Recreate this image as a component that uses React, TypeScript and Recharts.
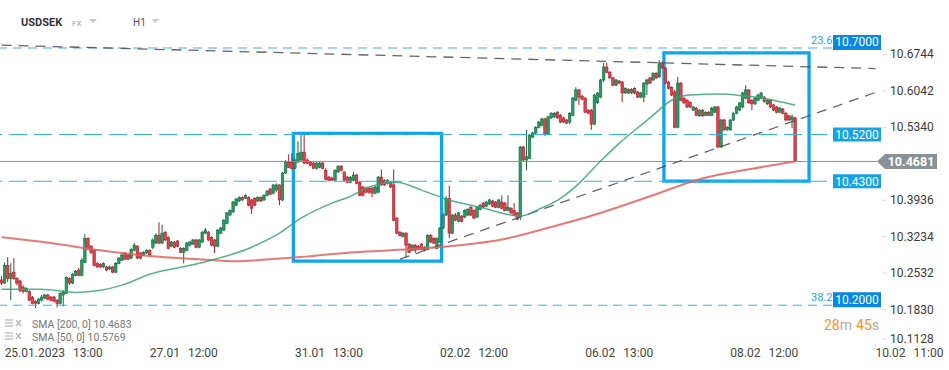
import { ComposedChart, Bar, Line, XAxis, YAxis, ReferenceLine, ReferenceArea } from 'recharts';

// USDSEK H1 candles, one array per trading session: [open, high, low, close]
type Ohlc = [number, number, number, number];

const jan25: Ohlc[] = [
  [10.240, 10.247, 10.230, 10.234], [10.234, 10.274, 10.232, 10.268], [10.268, 10.284, 10.236, 10.243],
  [10.243, 10.272, 10.201, 10.253], [10.255, 10.282, 10.240, 10.243], [10.243, 10.245, 10.230, 10.234],
  [10.238, 10.240, 10.216, 10.220], [10.226, 10.230, 10.214, 10.218], [10.218, 10.226, 10.216, 10.224],
  [10.218, 10.220, 10.199, 10.201], [10.207, 10.209, 10.193, 10.195], [10.199, 10.201, 10.186, 10.195],
];
const jan26: Ohlc[] = [
  [10.195, 10.205, 10.193, 10.203], [10.201, 10.211, 10.199, 10.207], [10.205, 10.213, 10.203, 10.211],
  [10.211, 10.213, 10.201, 10.203], [10.207, 10.209, 10.199, 10.201], [10.207, 10.209, 10.197, 10.199],
  [10.201, 10.203, 10.187, 10.195], [10.195, 10.216, 10.193, 10.214], [10.211, 10.220, 10.189, 10.216],
  [10.214, 10.247, 10.213, 10.245], [10.243, 10.245, 10.230, 10.234], [10.234, 10.253, 10.232, 10.251],
  [10.249, 10.259, 10.247, 10.257], [10.259, 10.263, 10.247, 10.249], [10.249, 10.282, 10.247, 10.278],
  [10.274, 10.328, 10.272, 10.320], [10.320, 10.322, 10.297, 10.301], [10.305, 10.307, 10.290, 10.293],
  [10.297, 10.299, 10.266, 10.268], [10.272, 10.274, 10.263, 10.265], [10.270, 10.272, 10.263, 10.265],
  [10.265, 10.274, 10.263, 10.272], [10.265, 10.267, 10.257, 10.259], [10.261, 10.267, 10.259, 10.265],
];
const jan27: Ohlc[] = [
  [10.265, 10.267, 10.253, 10.255], [10.255, 10.274, 10.253, 10.272], [10.272, 10.284, 10.270, 10.282],
  [10.278, 10.292, 10.276, 10.288], [10.292, 10.293, 10.278, 10.280], [10.288, 10.290, 10.278, 10.280],
  [10.282, 10.301, 10.280, 10.299], [10.297, 10.311, 10.295, 10.307], [10.305, 10.307, 10.280, 10.282],
  [10.292, 10.293, 10.280, 10.282], [10.288, 10.295, 10.286, 10.293], [10.292, 10.299, 10.290, 10.297],
  [10.297, 10.299, 10.284, 10.288], [10.303, 10.320, 10.299, 10.317], [10.311, 10.330, 10.309, 10.326],
  [10.326, 10.351, 10.309, 10.311], [10.311, 10.346, 10.309, 10.330], [10.332, 10.334, 10.315, 10.317],
  [10.322, 10.324, 10.299, 10.301], [10.305, 10.315, 10.303, 10.313], [10.313, 10.315, 10.301, 10.303],
  [10.315, 10.317, 10.303, 10.305], [10.301, 10.303, 10.292, 10.293],
];
const jan30: Ohlc[] = [
  [10.293, 10.303, 10.272, 10.301], [10.297, 10.313, 10.295, 10.311], [10.307, 10.315, 10.305, 10.313],
  [10.309, 10.319, 10.307, 10.317], [10.317, 10.319, 10.301, 10.303], [10.303, 10.319, 10.301, 10.317],
  [10.313, 10.334, 10.311, 10.332], [10.330, 10.340, 10.328, 10.336], [10.332, 10.334, 10.315, 10.317],
  [10.322, 10.324, 10.305, 10.307], [10.317, 10.319, 10.292, 10.305], [10.305, 10.338, 10.303, 10.336],
  [10.330, 10.342, 10.328, 10.340], [10.336, 10.357, 10.334, 10.355], [10.349, 10.371, 10.347, 10.369],
  [10.365, 10.376, 10.363, 10.374], [10.371, 10.392, 10.369, 10.390], [10.384, 10.397, 10.382, 10.396],
  [10.392, 10.401, 10.390, 10.399], [10.399, 10.401, 10.392, 10.394], [10.397, 10.405, 10.396, 10.403],
  [10.399, 10.401, 10.382, 10.384], [10.394, 10.396, 10.367, 10.378],
];
const jan31: Ohlc[] = [
  [10.397, 10.399, 10.382, 10.384], [10.392, 10.401, 10.390, 10.399], [10.399, 10.401, 10.390, 10.392],
  [10.394, 10.405, 10.392, 10.403], [10.403, 10.413, 10.401, 10.411], [10.415, 10.417, 10.403, 10.405],
  [10.407, 10.424, 10.405, 10.423], [10.413, 10.426, 10.409, 10.423], [10.423, 10.424, 10.384, 10.394],
  [10.394, 10.448, 10.392, 10.446], [10.446, 10.471, 10.444, 10.467], [10.467, 10.482, 10.455, 10.457],
  [10.467, 10.484, 10.453, 10.455], [10.455, 10.474, 10.453, 10.471], [10.467, 10.507, 10.465, 10.484],
  [10.471, 10.519, 10.469, 10.486], [10.486, 10.519, 10.463, 10.465], [10.471, 10.474, 10.463, 10.465],
  [10.467, 10.469, 10.459, 10.461], [10.465, 10.467, 10.453, 10.455], [10.455, 10.467, 10.453, 10.465],
  [10.457, 10.467, 10.455, 10.465], [10.465, 10.467, 10.453, 10.455], [10.451, 10.455, 10.432, 10.434],
];
const feb01: Ohlc[] = [
  [10.438, 10.440, 10.430, 10.432], [10.436, 10.439, 10.430, 10.432], [10.432, 10.453, 10.430, 10.451],
  [10.448, 10.461, 10.446, 10.459], [10.459, 10.461, 10.449, 10.451], [10.448, 10.449, 10.430, 10.432],
  [10.438, 10.440, 10.426, 10.428], [10.428, 10.440, 10.426, 10.438], [10.432, 10.448, 10.430, 10.442],
  [10.442, 10.444, 10.424, 10.426], [10.428, 10.430, 10.401, 10.403], [10.419, 10.421, 10.401, 10.403],
  [10.417, 10.419, 10.407, 10.409], [10.416, 10.419, 10.406, 10.409], [10.417, 10.419, 10.399, 10.407],
  [10.407, 10.421, 10.405, 10.419], [10.409, 10.440, 10.407, 10.438], [10.438, 10.453, 10.421, 10.423],
  [10.432, 10.434, 10.421, 10.423], [10.426, 10.434, 10.424, 10.432], [10.428, 10.430, 10.417, 10.419],
  [10.423, 10.453, 10.353, 10.355], [10.359, 10.361, 10.328, 10.330], [10.332, 10.334, 10.324, 10.326],
];
const feb02: Ohlc[] = [
  [10.324, 10.332, 10.322, 10.330], [10.330, 10.332, 10.284, 10.307], [10.309, 10.311, 10.292, 10.293],
  [10.297, 10.309, 10.295, 10.307], [10.307, 10.309, 10.292, 10.297], [10.305, 10.307, 10.297, 10.299],
  [10.309, 10.311, 10.297, 10.299], [10.297, 10.305, 10.295, 10.303], [10.299, 10.328, 10.297, 10.326],
  [10.326, 10.328, 10.311, 10.313], [10.320, 10.322, 10.309, 10.311], [10.301, 10.322, 10.299, 10.320],
  [10.313, 10.342, 10.311, 10.340], [10.340, 10.369, 10.338, 10.365], [10.365, 10.401, 10.363, 10.397],
  [10.397, 10.421, 10.320, 10.330], [10.330, 10.367, 10.328, 10.365], [10.365, 10.369, 10.353, 10.355],
  [10.353, 10.371, 10.351, 10.369], [10.363, 10.365, 10.351, 10.353], [10.361, 10.376, 10.359, 10.374],
  [10.365, 10.378, 10.363, 10.376], [10.380, 10.382, 10.363, 10.365], [10.374, 10.376, 10.357, 10.359],
];
const feb03: Ohlc[] = [
  [10.361, 10.382, 10.359, 10.380], [10.376, 10.386, 10.374, 10.384], [10.388, 10.390, 10.378, 10.380],
  [10.382, 10.392, 10.380, 10.390], [10.386, 10.396, 10.384, 10.394], [10.392, 10.394, 10.380, 10.382],
  [10.390, 10.392, 10.378, 10.380], [10.380, 10.396, 10.378, 10.394], [10.390, 10.403, 10.376, 10.378],
  [10.388, 10.390, 10.372, 10.374], [10.374, 10.403, 10.372, 10.380], [10.378, 10.380, 10.367, 10.369],
  [10.374, 10.388, 10.363, 10.365], [10.369, 10.371, 10.355, 10.357], [10.361, 10.498, 10.355, 10.496],
  [10.496, 10.498, 10.469, 10.471], [10.471, 10.529, 10.451, 10.477], [10.474, 10.521, 10.473, 10.519],
  [10.515, 10.525, 10.513, 10.523], [10.523, 10.536, 10.521, 10.534], [10.534, 10.546, 10.532, 10.544],
  [10.538, 10.552, 10.536, 10.550], [10.550, 10.552, 10.517, 10.521],
];
const feb06: Ohlc[] = [
  [10.521, 10.556, 10.519, 10.554], [10.552, 10.563, 10.550, 10.561], [10.554, 10.563, 10.552, 10.561],
  [10.563, 10.565, 10.550, 10.552], [10.557, 10.559, 10.542, 10.544], [10.552, 10.554, 10.542, 10.544],
  [10.548, 10.550, 10.540, 10.542], [10.544, 10.563, 10.540, 10.561], [10.557, 10.592, 10.556, 10.590],
  [10.586, 10.611, 10.584, 10.606], [10.606, 10.607, 10.577, 10.592], [10.594, 10.596, 10.586, 10.588],
  [10.590, 10.592, 10.561, 10.563], [10.567, 10.569, 10.559, 10.561], [10.567, 10.569, 10.529, 10.540],
  [10.540, 10.598, 10.538, 10.596], [10.581, 10.602, 10.579, 10.600], [10.592, 10.627, 10.590, 10.625],
  [10.625, 10.658, 10.621, 10.650], [10.650, 10.658, 10.638, 10.640], [10.640, 10.642, 10.627, 10.629],
  [10.629, 10.631, 10.613, 10.615], [10.615, 10.627, 10.613, 10.625],
];
const feb07: Ohlc[] = [
  [10.623, 10.625, 10.617, 10.619], [10.621, 10.623, 10.582, 10.600], [10.600, 10.611, 10.598, 10.609],
  [10.607, 10.609, 10.598, 10.600], [10.600, 10.609, 10.598, 10.607], [10.609, 10.611, 10.598, 10.600],
  [10.602, 10.604, 10.590, 10.592], [10.592, 10.602, 10.590, 10.600], [10.592, 10.621, 10.582, 10.619],
  [10.617, 10.627, 10.596, 10.625], [10.629, 10.631, 10.617, 10.619], [10.625, 10.640, 10.623, 10.638],
  [10.638, 10.640, 10.627, 10.629], [10.631, 10.663, 10.629, 10.658], [10.658, 10.661, 10.646, 10.648],
  [10.648, 10.650, 10.617, 10.619], [10.621, 10.623, 10.607, 10.609], [10.611, 10.613, 10.594, 10.596],
  [10.602, 10.606, 10.532, 10.534], [10.534, 10.631, 10.532, 10.619], [10.619, 10.621, 10.584, 10.586],
  [10.590, 10.592, 10.579, 10.581], [10.586, 10.588, 10.571, 10.573], [10.582, 10.584, 10.571, 10.573],
];
const feb08: Ohlc[] = [
  [10.567, 10.575, 10.565, 10.573], [10.571, 10.573, 10.556, 10.557], [10.556, 10.569, 10.554, 10.567],
  [10.567, 10.569, 10.554, 10.556], [10.557, 10.565, 10.556, 10.563], [10.563, 10.565, 10.556, 10.557],
  [10.557, 10.573, 10.556, 10.571], [10.563, 10.575, 10.561, 10.573], [10.573, 10.575, 10.494, 10.496],
  [10.496, 10.550, 10.494, 10.548], [10.548, 10.550, 10.527, 10.529], [10.529, 10.536, 10.527, 10.534],
  [10.529, 10.550, 10.527, 10.548], [10.548, 10.563, 10.546, 10.561], [10.561, 10.575, 10.559, 10.573],
  [10.567, 10.582, 10.565, 10.581], [10.573, 10.602, 10.571, 10.600], [10.590, 10.615, 10.588, 10.606],
  [10.606, 10.607, 10.579, 10.581], [10.586, 10.588, 10.567, 10.579], [10.579, 10.592, 10.577, 10.590],
  [10.586, 10.598, 10.584, 10.596], [10.590, 10.602, 10.588, 10.600], [10.592, 10.594, 10.581, 10.584],
];
const feb09: Ohlc[] = [
  [10.579, 10.588, 10.577, 10.586], [10.586, 10.588, 10.571, 10.573], [10.577, 10.579, 10.565, 10.567],
  [10.573, 10.575, 10.561, 10.563], [10.563, 10.573, 10.561, 10.571], [10.569, 10.571, 10.559, 10.561],
  [10.561, 10.563, 10.546, 10.548], [10.556, 10.557, 10.546, 10.548], [10.548, 10.559, 10.532, 10.554],
  [10.552, 10.554, 10.467, 10.4681],
];

// moving averages, read at [slot, value]
const sma50Points: [number, number][] = [
  [-1, 10.222], [12, 10.222], [23, 10.216], [31, 10.220], [38, 10.230], [47, 10.251], [63, 10.272],
  [80, 10.303], [89, 10.330], [96, 10.359], [106, 10.388], [112, 10.401], [118, 10.419], [127, 10.428],
  [135, 10.413], [144, 10.394], [154, 10.380], [167, 10.363], [173, 10.376], [180, 10.397], [186, 10.426],
  [193, 10.469], [199, 10.503], [209, 10.552], [216, 10.586], [222, 10.596], [232, 10.598], [240, 10.594],
  [246, 10.590], [251, 10.583], [256, 10.577],
];
const sma200Points: [number, number][] = [
  [-1, 10.322], [15, 10.311], [31, 10.297], [47, 10.286], [63, 10.280], [75, 10.276], [86, 10.280],
  [96, 10.284], [112, 10.293], [125, 10.297], [144, 10.305], [162, 10.319], [177, 10.342], [193, 10.369],
  [209, 10.401], [225, 10.434], [241, 10.453], [256, 10.4683],
];

const timeTicks: [number, string, string][] = [
  [0, '25.01.2023', '13:00'], [47, '27.01', '12:00'], [94, '31.01', '13:00'], [141, '02.02', '12:00'],
  [188, '06.02', '13:00'], [235, '08.02', '12:00'], [282, '10.02', '11:00'],
];
const priceTicks = [10.1128, 10.183, 10.2532, 10.3234, 10.3936, 10.534, 10.6042, 10.6744];

const levelValues = [10.52, 10.43];
const levelTexts = ['10.5200', '10.4300'];
const fibValues = [10.6866, 10.1913];
const fibRatios = ['23.6', '38.2'];
const fibTexts = ['10.7000', '10.2000'];
const lastPrice = 10.4681;
const smaLegend = ['SMA [200, 0] 10.4683', 'SMA [50, 0] 10.5769'];

const trendLines = [
  [{ x: -1, y: 10.692 }, { x: 282, y: 10.647 }],
  [{ x: 128, y: 10.28 }, { x: 282, y: 10.601 }],
];
const boxes = [
  { x1: 94, x2: 141, y1: 10.2761, y2: 10.5222 },
  { x1: 214, x2: 260, y1: 10.4303, y2: 10.6773 },
];

const FIRST_SLOT = -1;
const LAST_SLOT = 282;
const Y_DOMAIN: [number, number] = [10.1128, 10.779];

const candles = [jan25, jan26, jan27, jan30, jan31, feb01, feb02, feb03, feb06, feb07, feb08, feb09].flat();
const sma50Map = new Map(sma50Points);
const sma200Map = new Map(sma200Points);
const tickMap = new Map(timeTicks.map((t) => [t[0], t]));

const rows = [] as any[];
for (let i = FIRST_SLOT; i <= LAST_SLOT; i++) {
  const k = candles[i - FIRST_SLOT];
  rows.push({
    i,
    o: k ? k[0] : null,
    h: k ? k[1] : null,
    l: k ? k[2] : null,
    c: k ? k[3] : null,
    range: k ? [k[2], k[1]] : null,
    sma50: sma50Map.has(i) ? sma50Map.get(i) : null,
    sma200: sma200Map.has(i) ? sma200Map.get(i) : null,
  });
}

const FONT = 'Roboto, "Noto Sans", sans-serif';
const LEVEL_BLUE = '#17a2e6';
const FIB_BLUE = '#0a87e3';

function Candle(props: any) {
  const { x, y, width, height, payload } = props;
  if (!payload || payload.o == null) return <g />;
  const { o, h, l, c } = payload;
  const top = Math.min(y, y + height);
  const span = Math.abs(height);
  const ratio = h - l > 0 ? span / (h - l) : 0;
  const yOf = (v: number) => top + (h - v) * ratio;
  const cx = x + width / 2;
  const up = c >= o;
  const bTop = yOf(Math.max(o, c));
  const bBot = yOf(Math.min(o, c));
  const fill = up ? '#279c64' : '#e4404d';
  const edge = up ? '#15663e' : '#a11f2a';
  return (
    <g>
      <line x1={cx} x2={cx} y1={top} y2={top + span} stroke={edge} strokeWidth={1} />
      <rect x={cx - 1.25} y={bTop} width={2.5} height={Math.max(bBot - bTop, 1)} fill={fill} stroke={edge} strokeWidth={0.6} />
    </g>
  );
}

function LevelTag({ viewBox, text }: any) {
  const y = viewBox.y;
  return (
    <g>
      <rect x={833} y={y - 7} width={48} height={14} fill={LEVEL_BLUE} />
      <text x={857} y={y + 4.5} textAnchor="middle" fill="#fff" fontSize={12} fontFamily={FONT}>{text}</text>
    </g>
  );
}

function FibTag({ viewBox, text, ratio }: any) {
  const y = viewBox.y;
  return (
    <g>
      <text x={811} y={y - 4} fill="#2aa6e8" fontSize={11} fontFamily={FONT}>{ratio}</text>
      <rect x={833} y={y - 13} width={48} height={15} fill={FIB_BLUE} />
      <text x={857} y={y - 1.5} textAnchor="middle" fill="#fff" fontSize={12} fontFamily={FONT}>{text}</text>
    </g>
  );
}

function PriceTag({ viewBox, text }: any) {
  const y = viewBox.y;
  return (
    <g>
      <polygon points={`877,${y} 885,${y - 7.5} 937,${y - 7.5} 937,${y + 7.5} 885,${y + 7.5}`} fill="#8a9196" />
      <text x={911} y={y + 4.5} textAnchor="middle" fill="#fff" fontSize={12.5} fontWeight="bold" fontFamily={FONT}>{text}</text>
    </g>
  );
}

function TimeTick(props: any) {
  const { x, payload } = props;
  const t = tickMap.get(payload.value);
  if (!t) return <g />;
  return (
    <g>
      <line x1={x} x2={x} y1={344} y2={348} stroke="#e2e2e2" />
      <text x={x} y={357} fill="#444" fontSize={12} fontFamily={FONT}>
        <tspan>{t[1]}</tspan>
        <tspan dx={8}>{t[2]}</tspan>
      </text>
    </g>
  );
}

function PriceTick(props: any) {
  const { y, payload } = props;
  const bottom = payload.value === priceTicks[0];
  return (
    <g>
      <line x1={882} x2={887} y1={bottom ? y - 7 : y} y2={bottom ? y - 7 : y} stroke="#dddddd" />
      <text x={890} y={bottom ? y - 3 : y + 4} fill="#3a3a3a" fontSize={12} fontFamily={FONT}>
        {payload.value.toFixed(4)}
      </text>
    </g>
  );
}

function LegendIcon({ y }: { y: number }) {
  return (
    <g stroke="#b5b5b5" strokeWidth={1.2}>
      <line x1={5} x2={13} y1={y - 4} y2={y - 4} />
      <line x1={5} x2={13} y1={y - 1} y2={y - 1} />
      <line x1={5} x2={13} y1={y + 2} y2={y + 2} />
      <line x1={16} x2={21} y1={y - 4} y2={y + 2} />
      <line x1={21} x2={16} y1={y - 4} y2={y + 2} />
    </g>
  );
}

export default function App() {
  return (
    <div style={{ position: 'absolute', left: 0, top: 0, width: 949, height: 370, background: '#fff' }}>
      <ComposedChart width={949} height={370} data={rows} margin={{ top: 0, right: 0, bottom: 0, left: 0 }} barCategoryGap={0}>
        <XAxis dataKey="i" type="category" interval={0} tick={<TimeTick />} tickLine={false} axisLine={false} height={24} />
        <YAxis
          orientation="right"
          type="number"
          domain={Y_DOMAIN}
          ticks={priceTicks}
          interval={0}
          allowDataOverflow
          width={72}
          tick={<PriceTick />}
          tickLine={false}
          axisLine={false}
        />
        {fibValues.map((v, k) => (
          <ReferenceLine key={`fib${k}`} y={v} stroke="#3cb0ec" strokeDasharray="9 6" strokeWidth={1}
            label={<FibTag text={fibTexts[k]} ratio={fibRatios[k]} />} />
        ))}
        {levelValues.map((v, k) => (
          <ReferenceLine key={`lvl${k}`} y={v} stroke="#3ab0ea" strokeDasharray="18 7" strokeWidth={1.2}
            label={<LevelTag text={levelTexts[k]} />} />
        ))}
        <ReferenceLine y={lastPrice} stroke="#8a9196" strokeWidth={1} label={<PriceTag text={lastPrice.toFixed(4)} />} />
        {trendLines.map((seg, k) => (
          <ReferenceLine key={`tl${k}`} segment={seg} stroke="#454a4f" strokeOpacity={0.85} strokeDasharray="10 7" strokeWidth={1.3} ifOverflow="visible" />
        ))}
        <Bar dataKey="range" barSize={3} shape={(p: any) => <Candle {...p} />} isAnimationActive={false} />
        <Line dataKey="sma200" type="monotone" stroke="#e2605f" strokeOpacity={0.85} strokeWidth={2} strokeLinecap="butt"
          dot={false} activeDot={false} connectNulls isAnimationActive={false} />
        <Line dataKey="sma50" type="monotone" stroke="#3aa477" strokeOpacity={0.85} strokeWidth={1.5} strokeLinecap="butt"
          dot={false} activeDot={false} connectNulls isAnimationActive={false} />
        {boxes.map((b, k) => (
          <ReferenceArea key={`box${k}`} x1={b.x1} x2={b.x2} y1={b.y1} y2={b.y2} fill="none" fillOpacity={0}
            stroke="#0ea5ec" strokeWidth={3.3} ifOverflow="visible" />
        ))}
      </ComposedChart>
      <svg width={949} height={370} style={{ position: 'absolute', left: 0, top: 0, pointerEvents: 'none' }} fontFamily={FONT}>
        <text x={21} y={26} fontSize={11} fontWeight="bold" fill="#333">USDSEK</text>
        <text x={72} y={26} fontSize={8} fill="#a0a0a0">FX</text>
        <polygon points="89,19 97,19 93,23" fill="#c8c8c8" />
        <text x={133} y={26} fontSize={10} fill="#555">H1</text>
        <polygon points="152,19 159,19 155.5,23" fill="#c8c8c8" />
        <LegendIcon y={324} />
        <text x={32} y={328} fontSize={10.5} fill="#777">{smaLegend[0]}</text>
        <LegendIcon y={337} />
        <text x={32} y={341} fontSize={10.5} fill="#777">{smaLegend[1]}</text>
        <text x={824} y={330} fontSize={14}>
          <tspan fill="#f7931e">28</tspan>
          <tspan fill="#aaaaaa">m</tspan>
          <tspan dx={4} fill="#f7931e">45</tspan>
          <tspan fill="#aaaaaa">s</tspan>
        </text>
      </svg>
    </div>
  );
}
